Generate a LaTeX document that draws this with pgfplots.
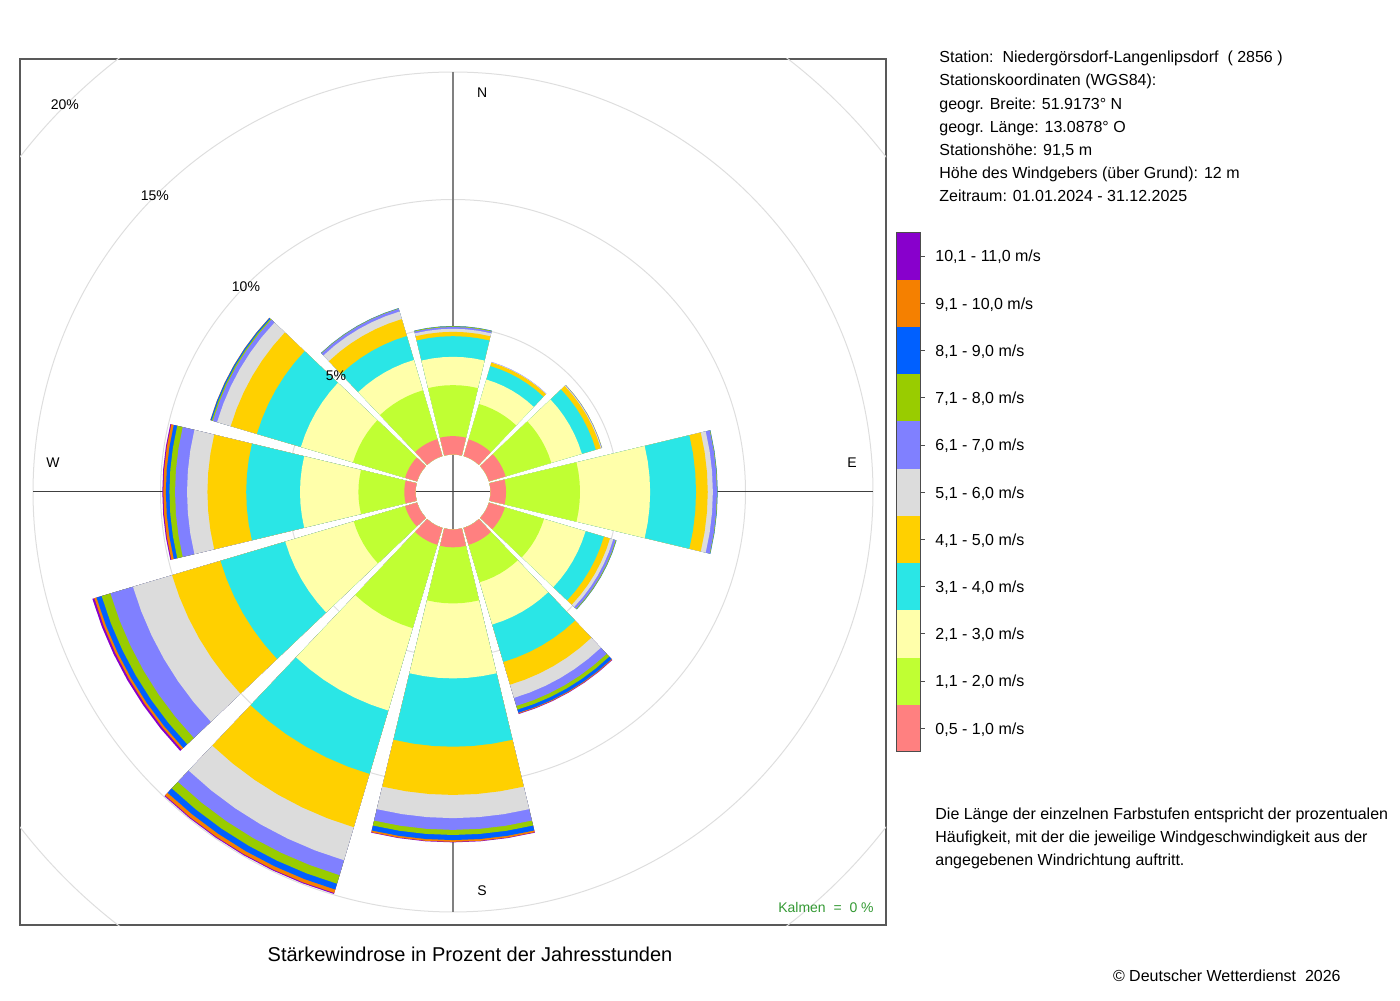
\documentclass[border=0pt]{standalone}
\usepackage{fontspec}
\setmainfont{Liberation Sans}
\usepackage{xfp}
\usepackage{pgfplots}
\pgfplotsset{compat=1.18}
\usepackage{pgfplotstable}

\definecolor{cls1}{HTML}{FF8080}
\definecolor{cls2}{HTML}{C0FF33}
\definecolor{cls3}{HTML}{FFFFAA}
\definecolor{cls4}{HTML}{2AE6E6}
\definecolor{cls5}{HTML}{FFD000}
\definecolor{cls6}{HTML}{DCDCDC}
\definecolor{cls7}{HTML}{8080FF}
\definecolor{cls8}{HTML}{99CC00}
\definecolor{cls9}{HTML}{0060FF}
\definecolor{cls10}{HTML}{F58000}
\definecolor{cls11}{HTML}{8800CC}
\definecolor{kalm}{HTML}{339933}

% percentage of hours per direction (rows) and speed class (columns)
\pgfplotstableread{
dir c1   c2   c3   c4   c5   c6   c7   c8   c9   c10  c11
0   0.72 2.00 1.11 0.81 0.17 0.12 0.07 0.03 0.01 0    0
30  0.68 1.45 1.00 0.55 0.14 0.02 0.01 0    0    0    0
60  0.68 1.87 1.25 0.57 0.20 0.03 0.02 0.01 0    0    0
90  0.61 2.90 2.75 1.80 0.46 0.20 0.16 0.02 0.01 0    0
120 0.65 1.60 1.70 0.75 0.25 0.13 0.10 0.03 0.01 0    0
150 0.69 1.53 1.73 1.53 0.93 0.54 0.33 0.15 0.13 0.03 0.02
180 0.70 2.20 2.94 2.68 1.89 0.91 0.46 0.20 0.20 0.07 0.02
210 0.69 3.41 3.37 2.59 2.18 1.35 0.61 0.35 0.24 0.14 0.04
240 0.49 2.10 2.80 2.65 1.98 1.60 0.92 0.36 0.21 0.09 0.08
270 0.44 1.80 2.29 2.11 1.52 0.80 0.47 0.22 0.14 0.10 0.04
300 0.49 2.13 2.13 1.80 1.07 0.56 0.17 0.05 0.05 0.01 0
330 0.69 2.00 1.24 0.98 0.69 0.31 0.11 0.02 0.01 0    0
}\windtable

\newcommand\Pt[2]{(\fpeval{round((#1)*sind(#2),4)},\fpeval{round((#1)*cosd(#2),4)})}
\newcommand\fs{\fontsize{8}{9.6}\selectfont}
\newcommand\fsm{\fontsize{7}{8.4}\selectfont}

\begin{document}
\begin{tikzpicture}
\path[use as bounding box] (0,0) rectangle (700pt,500pt);
\begin{axis}[
  at={(10pt,37.5pt)}, anchor=south west,
  width=433pt, height=433pt, scale only axis,
  xmin=-16.98, xmax=16.98, ymin=-16.98, ymax=16.98,
  xtick=\empty, ytick=\empty,
  axis line style={draw=black!65, line width=0.6pt},
]
\draw[black!13, line width=0.5pt] (axis cs:0,0) circle[radius=82.49pt];
\draw[black!13, line width=0.5pt] (axis cs:0,0) circle[radius=146.24pt];
\draw[black!13, line width=0.5pt] (axis cs:0,0) circle[radius=209.99pt];
\draw[black!13, line width=0.5pt] (axis cs:0,0) circle[radius=273.74pt];
\draw[black!50, line width=0.8pt] (axis cs:0,-16.47) -- (axis cs:0,16.47);
\draw[black!75, line width=0.5pt] (axis cs:-16.47,0) -- (axis cs:16.47,0);

\pgfplotsinvokeforeach{11,10,9,8,7,6,5,4,3,2,1}{%
  \pgfplotsforeachungrouped \i in {0,...,11}{%
    \edef\tmp{\noexpand\pgfplotstablegetelem{\i}{c#1}\noexpand\of\noexpand\windtable}\tmp
    \let\pk\pgfplotsretval
    \pgfmathtruncatemacro\wshow{\pk>0}%
    \ifnum\wshow=1
      \edef\R{1.47}%
      \pgfplotsforeachungrouped \j in {1,...,#1}{%
        \edef\tmp{\noexpand\pgfplotstablegetelem{\i}{c\j}\noexpand\of\noexpand\windtable}\tmp
        \edef\R{\fpeval{\R+\pgfplotsretval}}%
      }%
      \edef\tmp{\noexpand\pgfplotstablegetelem{\i}{dir}\noexpand\of\noexpand\windtable}\tmp
      \let\A\pgfplotsretval
      \edef\cmd{\noexpand\addplot[draw=none, fill=cls#1, forget plot] coordinates {%
        \Pt{\R}{\A-13.5} \Pt{\R}{\A-9} \Pt{\R}{\A-4.5} \Pt{\R}{\A}
        \Pt{\R}{\A+4.5} \Pt{\R}{\A+9} \Pt{\R}{\A+13.5}
        \Pt{1.47}{\A+13.5} \Pt{1.47}{\A+6.75} \Pt{1.47}{\A}
        \Pt{1.47}{\A-6.75} \Pt{1.47}{\A-13.5}};}%
      \cmd
    \fi
  }%
}

\node[font=\fsm] at (axis cs:1.14,15.65) {N};
\node[font=\fsm] at (axis cs:15.65,1.14) {E};
\node[font=\fsm] at (axis cs:1.14,-15.65) {S};
\node[font=\fsm] at (axis cs:-15.69,1.14) {W};
\node[font=\fsm] at (axis cs:-4.59,4.55) {5\%};
\node[font=\fsm] at (axis cs:-8.12,8.04) {10\%};
\node[font=\fsm] at (axis cs:-11.69,11.61) {15\%};
\node[font=\fsm] at (axis cs:-15.22,15.18) {20\%};
\node[font=\fsm, text=kalm, anchor=east, inner sep=0pt] at (axis cs:16.51,-16.31) {Kalmen\ \ =\ \ 0 \%};
\end{axis}

\begin{scope}[x=0.5pt, y=-0.5pt, yshift=500pt]
\node[font=\fs, anchor=base west, inner sep=0pt] at (939,62.7) {Station:\ \ Niedergörsdorf-Langenlipsdorf\ \ ( 2856 )};
\node[font=\fs, anchor=base west, inner sep=0pt] at (939,85.9) {Stationskoordinaten (WGS84):};
\node[font=\fs, anchor=base west, inner sep=0pt] at (939,109.1) {geogr. Breite: 51.9173° N};
\node[font=\fs, anchor=base west, inner sep=0pt] at (939,132.3) {geogr. Länge: 13.0878° O};
\node[font=\fs, anchor=base west, inner sep=0pt] at (939,155.5) {Stationshöhe: 91,5 m};
\node[font=\fs, anchor=base west, inner sep=0pt] at (939,178.7) {Höhe des Windgebers (über Grund): 12 m};
\node[font=\fs, anchor=base west, inner sep=0pt] at (939,201.9) {Zeitraum: 01.01.2024 - 31.12.2025};

\foreach \k/\lab [count=\n from 0] in {11/{10,1 - 11,0 m/s}, 10/{9,1 - 10,0 m/s}, 9/{8,1 - 9,0 m/s}, 8/{7,1 - 8,0 m/s}, 7/{6,1 - 7,0 m/s}, 6/{5,1 - 6,0 m/s}, 5/{4,1 - 5,0 m/s}, 4/{3,1 - 4,0 m/s}, 3/{2,1 - 3,0 m/s}, 2/{1,1 - 2,0 m/s}, 1/{0,5 - 1,0 m/s}}{
  \fill[cls\k] (896,{232.5+\n*47.23}) rectangle (920,{232.5+(\n+1)*47.23});
  \draw[black!70, line width=0.5pt] (920,{256.1+\n*47.23}) -- (925,{256.1+\n*47.23});
  \node[font=\fs, anchor=base west, inner sep=0pt] at (935,{261.9+\n*47.23}) {\lab};
}
\draw[black!70, line width=0.5pt] (896,232.5) rectangle (920,752);

\node[font=\fs, anchor=base west, inner sep=0pt] at (935,819.8) {Die Länge der einzelnen Farbstufen entspricht der prozentualen};
\node[font=\fs, anchor=base west, inner sep=0pt] at (935,842.9) {Häufigkeit, mit der die jeweilige Windgeschwindigkeit aus der};
\node[font=\fs, anchor=base west, inner sep=0pt] at (935,866.0) {angegebenen Windrichtung auftritt.};

\node[font=\fontsize{10}{12}\selectfont, anchor=base, inner sep=0pt] at (470,961.2) {Stärkewindrose in Prozent der Jahresstunden};
\node[font=\fs, anchor=base east, inner sep=0pt] at (1341,981.8) {© Deutscher Wetterdienst\ \ 2026};
\end{scope}
\end{tikzpicture}
\end{document}
